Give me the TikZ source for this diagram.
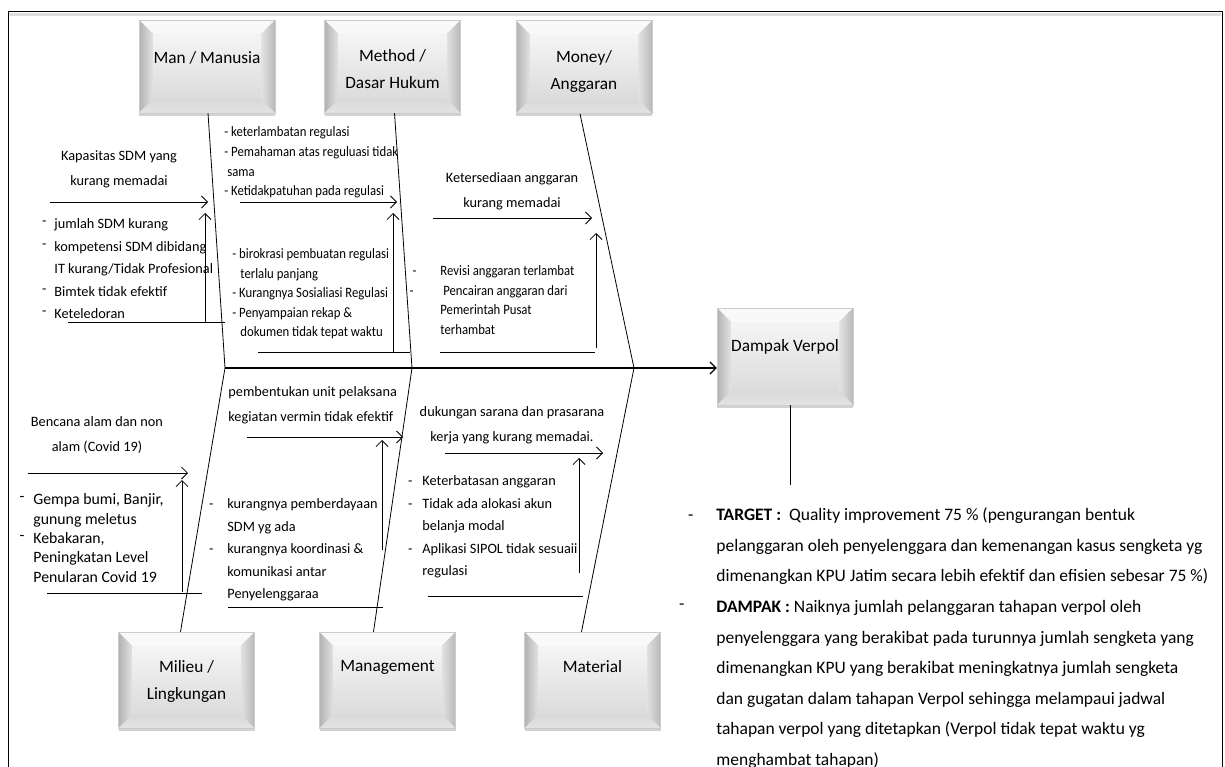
\documentclass[tikz,border=0pt]{standalone}
\usepackage{fontspec}
\setmainfont{Carlito}
\newfontfamily\condfont[FakeStretch=0.89]{Carlito}
\usetikzlibrary{arrows.meta,shadows}

% raised and plain dash hanging left of a list line
\newcommand\dl[1]{\llap{\raisebox{3pt}{-}\hspace{#1}}}
\newcommand\dd[1]{\llap{-\hspace{#1}}}

\tikzset{
  >={Straight Barb[length=6pt,width=12pt]},
  bevbox/.style={rectangle, inner sep=0pt, minimum width=136pt, minimum height=93pt,
    draw=gray!40, line width=0.5pt,
    drop shadow={shadow xshift=0pt, shadow yshift=-3pt, fill=gray!70},
    path picture={
      \coordinate (q1) at (path picture bounding box.north west);
      \coordinate (q2) at (path picture bounding box.north east);
      \coordinate (q3) at (path picture bounding box.south east);
      \coordinate (q4) at (path picture bounding box.south west);
      \coordinate (r1) at ([shift={(14pt,-14pt)}]q1);
      \coordinate (r2) at ([shift={(-14pt,-14pt)}]q2);
      \coordinate (r3) at ([shift={(-14pt,14pt)}]q3);
      \coordinate (r4) at ([shift={(14pt,14pt)}]q4);
      \fill[gray!5] (q1) -- (q2) -- (r2) -- (r1) -- cycle;
      \shade[left color=gray!60, right color=gray!22] (q1) -- (r1) -- (r4) -- (q4) -- cycle;
      \shade[left color=gray!22, right color=gray!55] (q2) -- (r2) -- (r3) -- (q3) -- cycle;
      \shade[top color=gray!30, bottom color=gray!22] (q4) -- (r4) -- (r3) -- (q3) -- cycle;
      \shade[top color=gray!8, bottom color=gray!28] (r1) rectangle (r3);
    }},
  boxlbl/.style={font=\fontsize{17.3}{27}\selectfont, align=center},
  hd/.style={align=center, inner sep=0pt, font=\fontsize{14.3}{25}\selectfont},
  lst/.style={anchor=north west, align=left, inner sep=0pt},
}

\begin{document}
\begin{tikzpicture}[x=1pt, y=-1pt, line width=0.8pt]
\useasboundingbox (0,0) rectangle (1225,767);

% frame
\draw[gray!25, line width=3pt] (9,15) -- (1221,15);
\draw (8,767) -- (8,11) -- (1222,11) -- (1222,767);

% category boxes
\node[bevbox, label={[boxlbl,yshift=9pt]center:Man / Manusia}] (man) at (207,66.5) {};
\node[bevbox, label={[boxlbl,yshift=-3pt]center:Method /\\Dasar Hukum}] (meth) at (392.5,66.5) {};
\node[bevbox, label={[boxlbl,yshift=-4pt]center:Money/\\Anggaran}] (money) at (584,67) {};
\node[bevbox, minimum height=96pt, label={[boxlbl,yshift=-1pt]center:Milieu /\\Lingkungan}] (mil) at (186.5,680) {};
\node[bevbox, minimum height=96pt, label={[boxlbl,yshift=13pt]center:Management}] (mgt) at (387.5,680) {};
\node[bevbox, minimum height=96pt, label={[boxlbl,yshift=13pt]center:Material}] (mat) at (592.5,680) {};
\node[bevbox, minimum height=97pt, label={[boxlbl,yshift=9.5pt]center:Dampak Verpol}] (dampak) at (785,356.5) {};

% spine and bones
\coordinate (sp1) at (225,368);
\coordinate (sp2) at (412,368);
\coordinate (sp3) at (634,368);
\draw[->, line width=1.1pt] (sp1) -- (sp1 -| dampak.west);
\draw ([xshift=1pt]man.south) -- (sp1) -- ([xshift=-6pt]mil.north);
\draw ([xshift=2pt]meth.south) -- (sp2) -- ([xshift=-14pt]mgt.north);
\draw ([xshift=-4pt]money.south) -- (sp3) -- ([xshift=-11pt]mat.north);
\coordinate (tgtend) at (790,485);
\draw ([xshift=5pt]dampak.south) -- (tgtend);

% man
\coordinate (manh1) at (50,202);  \coordinate (manh2) at (208,202);
\coordinate (manv1) at (205,323); \coordinate (manv2) at (205,213);
\coordinate (manb1) at (68,322);  \coordinate (manb2) at (225,322);
\draw[->] (manh1) -- (manh2);
\draw[->] (manv1) -- (manv2);
\draw (manb1) -- (manb2);
\node[hd] (manhd) at (119,169.5) {Kapasitas SDM yang\\kurang memadai};
\node[lst, font=\fontsize{14.3}{22.5}\selectfont] (manlst) at (54,218.3)
  {\dl{8pt}jumlah SDM kurang\\ \dl{8pt}kompetensi SDM dibidang\\ IT kurang/Tidak Profesional\\
   \dl{8pt}Bimtek tidak efektif\\ \dl{8pt}Keteledoran};

% method
\coordinate (meh1) at (240,202); \coordinate (meh2) at (397,202);
\coordinate (mev1) at (393,352); \coordinate (mev2) at (393,213);
\coordinate (meb1) at (258,352); \coordinate (meb2) at (410,352);
\draw[->] (meh1) -- (meh2);
\draw[->] (mev1) -- (mev2);
\draw (meb1) -- (meb2);
\node[lst, font=\condfont\fontsize{14.3}{19.7}\selectfont] (melst1) at (224,126.3)
  {- keterlambatan regulasi\\- Pemahaman atas reguluasi tidak\\ \hspace*{3pt}sama\\- Ketidakpatuhan pada regulasi};
\node[lst, font=\condfont\fontsize{14.3}{19.5}\selectfont] (melst2) at (232,248.3)
  {- birokrasi pembuatan regulasi\\ \hspace*{8pt}terlalu panjang\\- Kurangnya Sosialiasi Regulasi\\
   - Penyampaian rekap \&\\ \hspace*{8pt}dokumen tidak tepat waktu};

% money
\coordinate (moh1) at (433,218); \coordinate (moh2) at (592,218);
\coordinate (mov1) at (596,348); \coordinate (mov2) at (596,233);
\coordinate (mob1) at (440,352); \coordinate (mob2) at (595,352);
\draw[->] (moh1) -- (moh2);
\draw[->] (mov1) -- (mov2);
\draw (mob1) -- (mob2);
\node[hd] (mohd) at (512,191.5) {Ketersediaan anggaran\\kurang memadai};
\node[lst, font=\condfont\fontsize{14.3}{19.5}\selectfont] (molst) at (440,265.3)
  {\dd{24pt}Revisi anggaran terlambat\\ \dd{27pt} Pencairan anggaran dari\\Pemerintah Pusat\\terhambat};

% milieu
\coordinate (mih1) at (28,473);  \coordinate (mih2) at (188,473);
\coordinate (miv1) at (182,592); \coordinate (miv2) at (182,480);
\coordinate (mib1) at (47,593);  \coordinate (mib2) at (202,593);
\draw[->] (mih1) -- (mih2);
\draw[->] (miv1) -- (miv2);
\draw (mib1) -- (mib2);
\node[hd] (mihd) at (97,435.5) {Bencana alam dan non\\alam (Covid 19)};
\node[lst, font=\fontsize{15.8}{19.3}\selectfont] (milst) at (33,493.6)
  {\dl{9pt}Gempa bumi, Banjir,\\gunung meletus\\ \dl{9pt}Kebakaran,\\Peningkatan Level\\Penularan Covid 19};

% management
\coordinate (mgh1) at (247,437); \coordinate (mgh2) at (403,437);
\coordinate (mgv1) at (382,550); \coordinate (mgv2) at (382,440);
\coordinate (mgb1) at (228,607); \coordinate (mgb2) at (383,607);
\draw[->] (mgh1) -- (mgh2);
\draw[->] (mgv1) -- (mgv2);
\draw (mgb1) -- (mgb2);
\node[lst, font=\fontsize{14.3}{25}\selectfont] (mghd) at (228,386.3)
  {pembentukan unit pelaksana\\kegiatan vermin tidak efektif};
\node[lst, font=\fontsize{14.3}{22.5}\selectfont] (mglst) at (227,498.3)
  {\dd{14pt}kurangnya pemberdayaan\\SDM yg ada\\ \dd{14pt}kurangnya koordinasi \&\\komunikasi antar\\Penyelenggaraa};

% material
\coordinate (mah1) at (445,453); \coordinate (mah2) at (603,453);
\coordinate (mav1) at (579,573); \coordinate (mav2) at (579,458);
\coordinate (mab1) at (428,596); \coordinate (mab2) at (583,596);
\draw[->] (mah1) -- (mah2);
\draw[->] (mav1) -- (mav2);
\draw (mab1) -- (mab2);
\node[hd] (mahd) at (512,425) {dukungan sarana dan prasarana\\kerja yang kurang memadai.};
\node[lst, font=\fontsize{14.3}{22.5}\selectfont] (malst) at (422,475.3)
  {\dd{10pt}Keterbatasan anggaran\\ \dd{10pt}Tidak ada alokasi akun\\belanja modal\\
   \dd{10pt}Aplikasi SIPOL tidak sesuaii\\regulasi};

% target and impact
\node[lst, font=\fontsize{17.5}{30.5}\selectfont] (tgt) at (716,507.8)
  {\dd{23pt}\textbf{TARGET :}\ \ Quality improvement 75 \% (pengurangan bentuk\\
   pelanggaran oleh penyelenggara dan kemenangan kasus sengketa yg\\
   dimenangkan KPU Jatim secara lebih efektif dan efisien sebesar 75 \%)\\
   \dl{32pt}\textbf{DAMPAK :} Naiknya jumlah pelanggaran tahapan verpol oleh\\
   penyelenggara yang berakibat pada turunnya  jumlah sengketa yang\\
   dimenangkan KPU yang berakibat meningkatnya jumlah sengketa\\
   dan gugatan dalam tahapan Verpol sehingga melampaui jadwal\\
   tahapan verpol yang ditetapkan  (Verpol tidak tepat waktu  yg\\
   menghambat tahapan)};

\end{tikzpicture}
\end{document}
